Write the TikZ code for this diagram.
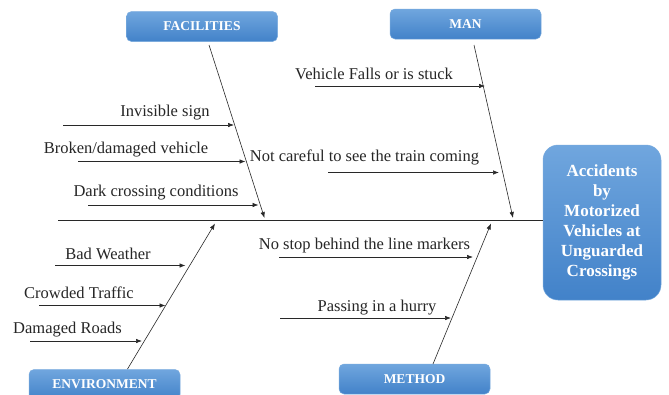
\documentclass[tikz,border=0pt]{standalone}
\usepackage{fontspec}
\setmainfont{Liberation Serif}
\newfontfamily\tnr{Liberation Serif}
\usetikzlibrary{arrows.meta}
\definecolor{catTop}{RGB}{112,166,222}
\definecolor{catBot}{RGB}{66,130,201}
\definecolor{catEdge}{RGB}{120,170,222}
\definecolor{lineGray}{RGB}{40,40,40}
\begin{document}
\begin{tikzpicture}[x=1pt,y=-1pt,
  cat/.style={rounded corners=5pt, top color=catTop, bottom color=catBot,
    draw=catEdge, line width=0.5pt, minimum width=151pt, minimum height=30pt,
    text=white, font=\tnr\fontsize{13.5}{15}\selectfont\bfseries, inner sep=0pt},
  effectbox/.style={rounded corners=15pt, top color=catTop, bottom color=catBot,
    draw=catEdge, line width=0.5pt, minimum width=118pt, minimum height=155pt,
    text=white, align=center, font=\tnr\fontsize{17}{20}\selectfont\bfseries, inner sep=0pt},
  bone/.style={draw=lineGray, line width=0.6pt, -{Latex[length=6pt,width=4.5pt]}},
  twig/.style={draw=lineGray, line width=0.6pt, -{Latex[length=6pt,width=4.5pt]}},
  lbl/.style={font=\tnr\fontsize{16.5}{18}\selectfont, text=black!85, inner sep=0pt}]
\clip (0,0) rectangle (669,394);
\fill[white] (0,0) rectangle (669,394);

% category boxes and the effect
\node[cat] (fac) at (202,26.5) {FACILITIES};
\node[cat] (man) at (465.5,24) {MAN};
\node[cat] (env) at (104.5,384.5) {ENVIRONMENT};
\node[cat] (met) at (414.5,379) {METHOD};
\node[effectbox] (eff) at (602,222.5) {Accidents\\by\\Motorized\\Vehicles at\\Unguarded\\Crossings};

% spine
\coordinate (spL) at (58,220.5);
\draw[draw=lineGray, line width=0.6pt] (spL) -- (spL -| eff.west);

% main bones
\coordinate (facA) at (209,45);  \coordinate (facB) at (264.5,218);
\coordinate (manA) at (474,45);  \coordinate (manB) at (513,218);
\coordinate (envA) at (127.5,369); \coordinate (envB) at (215,223.5);
\coordinate (metA) at (433,364); \coordinate (metB) at (491,223.5);
\draw[bone] (facA) -- (facB);
\draw[bone] (manA) -- (manB);
\draw[bone] (envA) -- (envB);
\draw[bone] (metA) -- (metB);

% facilities causes
\coordinate (c1a) at (63,125);  \coordinate (c1b) at (234,125);
\coordinate (c2a) at (78,161.5); \coordinate (c2b) at (245.5,161.5);
\coordinate (c3a) at (88,205);  \coordinate (c3b) at (258.5,205);
\draw[twig] (c1a) -- (c1b);
\draw[twig] (c2a) -- (c2b);
\draw[twig] (c3a) -- (c3b);
\node[lbl] (t1) at (165,113) {Invisible sign};
\node[lbl] (t2) at (126,150) {Broken/damaged vehicle};
\node[lbl] (t3) at (156,193) {Dark crossing conditions};

% man causes
\coordinate (c4a) at (315,86);  \coordinate (c4b) at (485,86);
\coordinate (c5a) at (328,172.5); \coordinate (c5b) at (499,172.5);
\draw[twig] (c4a) -- (c4b);
\draw[twig] (c5a) -- (c5b);
\node[lbl] (t4) at (374,74) {Vehicle Falls or is stuck};
\node[lbl] (t5) at (364.5,157.5) {Not careful to see the train coming};

% environment causes
\coordinate (c6a) at (55,265.5); \coordinate (c6b) at (185.5,265.5);
\coordinate (c7a) at (39,305.5); \coordinate (c7b) at (165.5,305.5);
\coordinate (c8a) at (30,341);  \coordinate (c8b) at (142,341);
\draw[twig] (c6a) -- (c6b);
\draw[twig] (c7a) -- (c7b);
\draw[twig] (c8a) -- (c8b);
\node[lbl] (t6) at (108,254) {Bad Weather};
\node[lbl] (t7) at (79,292.5) {Crowded Traffic};
\node[lbl] (t8) at (67.5,330) {Damaged Roads};

% method causes
\coordinate (c9a) at (279,257);  \coordinate (c9b) at (473,257);
\coordinate (c10a) at (280,318); \coordinate (c10b) at (451,318);
\draw[twig] (c9a) -- (c9b);
\draw[twig] (c10a) -- (c10b);
\node[lbl] (t9) at (364.5,246) {No stop behind the line markers};
\node[lbl] (t10) at (377,308) {Passing in a hurry};
\end{tikzpicture}
\end{document}
